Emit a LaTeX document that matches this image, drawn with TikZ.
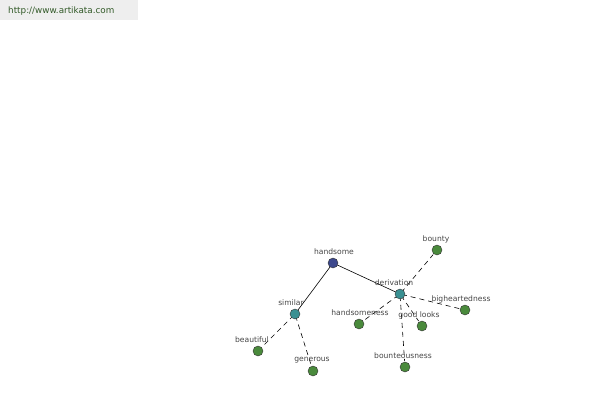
\documentclass[tikz,border=0pt]{standalone}
\usepackage{fontspec}
\setmainfont{DejaVu Sans}
\definecolor{rootc}{RGB}{60,72,140}
\definecolor{midc}{RGB}{58,144,146}
\definecolor{leafc}{RGB}{74,138,60}
\definecolor{lblc}{RGB}{70,70,70}
\definecolor{hdrbg}{RGB}{238,238,238}
\definecolor{urlc}{RGB}{50,90,40}
\begin{document}
\begin{tikzpicture}[x=1pt,y=-1pt,
  dot/.style={circle,draw=black!80,line width=0.4pt,minimum size=10pt,inner sep=0pt},
  root/.style={dot,fill=rootc},
  mid/.style={dot,fill=midc},
  leaf/.style={dot,fill=leafc},
  lbl/.style={font=\fontsize{7.6}{8}\selectfont,text=lblc,inner sep=0pt},
  solidedge/.style={draw=black,line width=0.6pt},
  dashedge/.style={draw=black,line width=0.6pt,dash pattern=on 5pt off 4pt,shorten >=6pt,shorten <=2pt}]
\useasboundingbox (0,0) rectangle (600,400);
\fill[white] (0,0) rectangle (600,400);
\fill[hdrbg] (0,0) rectangle (138,20);
\node[font=\fontsize{8.8}{10}\selectfont,text=urlc,anchor=west,inner sep=0pt] (url) at (8,11) {http://www.artikata.com};
\draw[solidedge] (333,263) coordinate (cH) -- (295,314) coordinate (cS);
\draw[solidedge] (cH) -- (400,294) coordinate (cD);
\draw[dashedge] (cS) -- (258,351) coordinate (cBe);
\draw[dashedge] (cS) -- (313,371) coordinate (cGe);
\draw[dashedge] (cD) -- (437,250) coordinate (cBo);
\draw[dashedge] (cD) -- (359,324) coordinate (cHn);
\draw[dashedge] (cD) -- (422,326) coordinate (cGl);
\draw[dashedge] (cD) -- (465,310) coordinate (cBh);
\draw[dashedge] (cD) -- (405,367) coordinate (cBn);
\node[root] (handsome) at (cH) {};
\node[mid] (derivation) at (cD) {};
\node[mid] (similar) at (cS) {};
\node[leaf] (beautiful) at (cBe) {};
\node[leaf] (generous) at (cGe) {};
\node[leaf] (bounty) at (cBo) {};
\node[leaf] (handsomeness) at (cHn) {};
\node[leaf] (goodlooks) at (cGl) {};
\node[leaf] (bigheartedness) at (cBh) {};
\node[leaf] (bounteousness) at (cBn) {};
\node[lbl] (lhandsome) at (334,252) {handsome};
\node[lbl] (lderivation) at (394,283) {derivation};
\node[lbl] (lsimilar) at (291,303) {similar};
\node[lbl] (lbeautiful) at (252,340) {beautiful};
\node[lbl] (lgenerous) at (312,360) {generous};
\node[lbl] (lbounty) at (436,239) {bounty};
\node[lbl] (lhandsomeness) at (360,313) {handsomeness};
\node[lbl] (lgoodlooks) at (419,315) {good looks};
\node[lbl] (lbigheartedness) at (461,299) {bigheartedness};
\node[lbl] (lbounteousness) at (403,356) {bounteousness};
\end{tikzpicture}
\end{document}
